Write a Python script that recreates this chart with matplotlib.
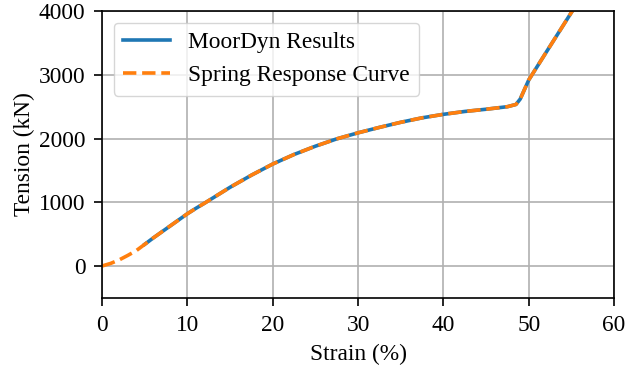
import matplotlib
matplotlib.use("Agg")
import matplotlib.pyplot as plt

# Spring response curve (strain %, tension kN)
spring_strain = [0, 1, 2, 3, 4, 5, 6, 7, 8, 9, 10, 11, 12, 13.5, 15, 17.5, 20, 22.5, 25, 27.5, 30,
                 32.5, 35, 37.5, 40, 42.5, 45, 47.5, 48.5, 49, 50, 52, 55, 56]
spring_tension = [0, 40, 95, 165, 240, 340, 440, 535, 630, 725, 820, 905, 985, 1110, 1235, 1425,
                  1600, 1750, 1880, 1995, 2090, 2175, 2255, 2325, 2380, 2425, 2460, 2500, 2535,
                  2620, 2920, 3345, 3980, 4190]

# MoorDyn results
moordyn_strain = [5, 6, 7, 8, 9, 10, 11, 12, 13.5, 15, 17.5, 20, 22.5, 25, 27.5, 30, 32.5, 35,
                  37.5, 40, 42.5, 45, 47.5, 48.5, 49, 50, 52, 55, 56]
moordyn_tension = [340, 440, 535, 630, 725, 820, 905, 985, 1110, 1235, 1425, 1600, 1750, 1880,
                   1995, 2090, 2175, 2255, 2325, 2380, 2425, 2460, 2500, 2535, 2620, 2920, 3345,
                   3980, 4190]

plt.rcParams.update({
    'font.family': 'serif',
    'font.serif': ['Liberation Serif', 'DejaVu Serif'],
    'font.size': 16.8,
    'mathtext.fontset': 'stix',
})

fig = plt.figure(figsize=(6.26, 3.70), dpi=100)
ax = fig.add_axes([0.163, 0.195, 0.818, 0.775])

ax.plot(moordyn_strain, moordyn_tension, color='tab:blue', linewidth=2.6, label='MoorDyn Results')
ax.plot(spring_strain, spring_tension, color='tab:orange', linewidth=2.6, linestyle='--',
        label='Spring Response Curve')

ax.set_xlim(0, 60)
ax.set_ylim(-500, 4000)
ax.set_xticks([0, 10, 20, 30, 40, 50, 60])
ax.set_yticks([0, 1000, 2000, 3000, 4000])
ax.grid(True, color='#b0b0b0', linewidth=1.2)
ax.set_axisbelow(True)
ax.tick_params(width=1.2, length=6, pad=6)
for s in ax.spines.values():
    s.set_linewidth(1.2)
ax.set_xlabel('Strain (%)', labelpad=6)
ax.set_ylabel('Tension (kN)', labelpad=3)
ax.legend(loc='upper left')

fig.savefig('out.png', dpi=100)
